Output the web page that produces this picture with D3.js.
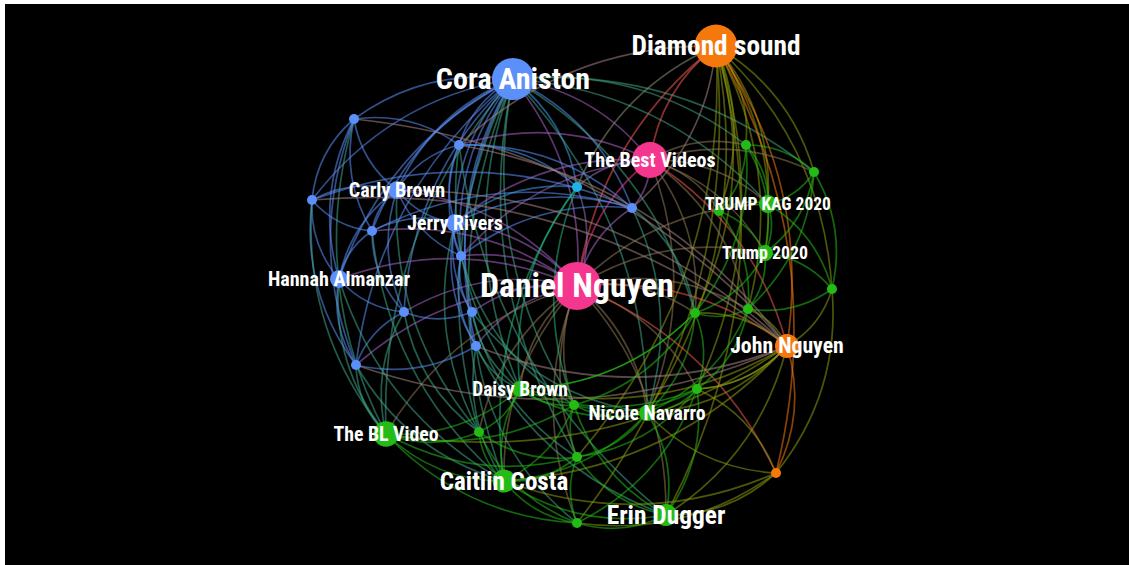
<!DOCTYPE html>
<html>
<head>
<meta charset="utf-8">
<script src="https://cdn.jsdelivr.net/npm/d3@7"></script>
<style>
  html, body { margin: 0; padding: 0; background: #fff; }
  svg { display: block; }
</style>
</head>
<body>
<svg id="chart" width="1129" height="565"></svg>
<script>
// ---------------- DATA ----------------
const nodeNames = [
  "Daniel Nguyen", "Cora Aniston", "Diamond sound", "The Best Videos", "Carly Brown",
  "Jerry Rivers", "Hannah Almanzar", "TRUMP KAG 2020", "Trump 2020", "John Nguyen",
  "Daisy Brown", "Nicole Navarro", "The BL Video", "Caitlin Costa", "Erin Dugger",
  "", "", "", "", "", "", "", "", "", "", "",
  "", "", "", "", "", "", "", "", "", "", "", ""
];
const nodeGroups = [
  "pink", "blue", "orange", "pink", "blue",
  "blue", "blue", "green", "green", "orange",
  "green", "green", "green", "green", "green",
  "blue", "blue", "blue", "blue", "blue", "blue", "blue", "blue", "blue", "blue", "cyan",
  "green", "green", "green", "green", "green", "green", "green", "green", "green", "green", "green", "orange"
];
// layout coordinates (force-layout units, Daniel Nguyen at the origin)
const layoutX = [
  0.0, -6.4, 13.9, 7.3, -18.0,
  -12.2, -23.8, 19.1, 18.8, 21.0,
  -5.7, 7.0, -19.1, -7.3, 8.9,
  -22.3, -11.8, -26.5, -20.5, -11.6, -17.3, -10.5, -10.1, -22.1, 5.5, 0.0,
  16.9, 23.7, 14.2, 25.5, 17.1, 11.8, 12.0, -0.3, -9.8, 0.0, 0.0, 19.9
];
const layoutY = [
  0.0, -20.7, -24.0, -12.6, -9.6,
  -6.3, -0.7, -8.2, -3.3, 6.0,
  10.3, 12.7, 14.8, 19.5, 22.9,
  -16.7, -14.1, -8.6, -5.5, -3.0, 2.6, 2.6, 6.0, 7.9, -7.8, -9.9,
  -14.1, -11.4, -7.5, 0.3, 2.3, 2.7, 10.3, 11.9, 14.6, 17.1, 23.7, 18.7
];
// node weight (drives circle area)
const nodeWeight = [
  100, 77, 80, 56, 14,
  14, 14, 14, 11, 25,
  11, 11, 28, 23, 21,
  4.3, 4.3, 4.3, 4.3, 4.3, 4.3, 4.3, 4.3, 4.3, 4.3, 4.3,
  4.3, 4.3, 4.3, 4.3, 4.3, 4.3, 4.3, 4.3, 4.3, 4.3, 4.3, 4.3
];
// label weight (drives label size)
const labelWeight = [
  102, 91, 83, 61, 61,
  60, 61, 53, 54, 66,
  59, 60, 60, 76, 77,
  0, 0, 0, 0, 0, 0, 0, 0, 0, 0, 0,
  0, 0, 0, 0, 0, 0, 0, 0, 0, 0, 0, 0
];
const edgeList = [
  // Cora Aniston
  [1,15],[1,16],[1,4],[1,5],[1,18],[1,19],[1,6],[1,21],[1,22],[1,20],[1,23],[1,24],[1,25],
  [1,0],[1,3],[1,17],[1,10],[1,13],[1,34],[1,12],[1,26],[1,27],[1,33],[1,35],[1,11],[1,31],[1,7],
  // Diamond sound
  [2,26],[2,27],[2,7],[2,28],[2,8],[2,29],[2,30],[2,31],[2,9],[2,37],[2,14],[2,11],[2,32],
  [2,3],[2,0],[2,16],[2,25],[2,24],[2,36],[2,35],
  // Daniel Nguyen
  [0,3],[0,4],[0,5],[0,6],[0,18],[0,19],[0,20],[0,21],[0,22],[0,23],[0,24],[0,25],[0,10],[0,11],
  [0,12],[0,13],[0,14],[0,31],[0,32],[0,33],[0,30],[0,37],[0,9],[0,8],[0,7],[0,35],[0,36],[0,34],
  // The Best Videos
  [3,24],[3,25],[3,7],[3,28],[3,26],[3,9],[3,30],[3,31],[3,16],[3,5],[3,19],[3,8],[3,27],[3,11],
  // blue cluster
  [15,16],[15,4],[15,17],[15,18],[15,23],[15,6],[16,4],[16,5],[16,25],[16,24],[16,19],[4,17],[4,18],
  [4,5],[4,19],[4,6],[4,20],[17,18],[17,6],[17,23],[18,5],[18,6],[18,20],[5,19],[5,21],[5,22],[5,25],
  [5,24],[19,21],[19,22],[6,20],[6,23],[20,21],[20,23],[21,22],[22,23],[19,24],[18,24],[17,24],
  // blue - green
  [23,12],[23,13],[17,12],[6,13],[15,12],[22,13],[22,14],[21,11],[20,12],[20,34],[22,10],[21,10],
  [19,33],[6,12],[4,34],[18,13],[22,36],[21,35],[25,10],[25,33],[25,13],[24,31],[24,11],[16,10],[16,14],[5,34],
  // blue - orange
  [15,9],[16,9],[17,9],[4,9],[23,9],[22,9],
  // right green cluster
  [26,27],[26,7],[26,28],[26,8],[27,7],[27,29],[27,8],[28,7],[28,8],[28,30],[7,8],[7,29],[8,29],
  [8,30],[8,31],[29,30],[29,9],[29,37],[30,9],[30,31],[31,9],[31,32],[32,9],[26,31],[27,30],
  // orange - green
  [37,9],[37,14],[37,11],[37,32],[37,36],[37,13],[9,14],[9,11],[9,32],[9,12],[9,13],[9,10],
  // bottom green cluster
  [12,13],[12,34],[12,36],[12,10],[12,35],[13,34],[13,35],[13,36],[13,14],[13,10],[13,33],[13,11],
  [14,36],[14,35],[14,11],[14,32],[14,33],[10,33],[10,34],[10,11],[10,31],[11,33],[11,32],[11,35],
  [11,31],[33,35],[33,32],[34,35],[35,36],[32,35],[31,33],[31,10],[30,11],[30,32],[32,36],[34,36],[12,33],[10,32]
];

// ---------------- STYLE / SCALES ----------------
const groupColor = {
  blue: "#5b8ff9", pink: "#f5368f", orange: "#f5780c", green: "#25bb16", cyan: "#1fb4e8"
};
const W = 1129, H = 565;
const x = d3.scaleLinear().domain([-30, 30]).range([277, 877]);
const y = d3.scaleLinear().domain([-30, 30]).range([-14, 586]);
const r = d3.scaleSqrt().domain([0, 100]).range([0, 24]);
const fs = d3.scaleLinear().domain([0, 100]).range([0, 33]);

const nodes = nodeNames.map((n, i) => ({
  name: n, group: nodeGroups[i], px: x(layoutX[i]), py: y(layoutY[i]),
  r: r(nodeWeight[i]), fs: fs(labelWeight[i])
}));
const links = edgeList.map(([s, t], i) => ({ s: nodes[s], t: nodes[t], i }));

const svg = d3.select("#chart");
svg.append("rect").attr("x", 5).attr("y", 4).attr("width", W - 5).attr("height", H - 4).attr("fill", "#000");

const cx0 = x(0), cy0 = y(0.4);

function ctrl(d) {
  const sx = d.s.px, sy = d.s.py, tx = d.t.px, ty = d.t.py;
  const dx = tx - sx, dy = ty - sy, len = Math.hypot(dx, dy);
  let nx = -dy / len, ny = dx / len;
  const mx = (sx + tx) / 2, my = (sy + ty) / 2;
  if (nx * (mx - cx0) + ny * (my - cy0) < 0) { nx = -nx; ny = -ny; }
  const k = 0.2 * len;
  return [mx + nx * k, my + ny * k];
}

svg.append("g").attr("fill", "none")
  .selectAll("path").data(links).join("path")
  .attr("d", d => {
    const [qx, qy] = ctrl(d);
    return `M${d.s.px},${d.s.py}Q${qx},${qy} ${d.t.px},${d.t.py}`;
  })
  .attr("stroke", d => d3.interpolateRgb(groupColor[d.s.group], groupColor[d.t.group])(0.5))
  .attr("stroke-width", 1.7)
  .attr("stroke-opacity", 0.55);

svg.append("g").selectAll("circle").data(nodes).join("circle")
  .attr("cx", d => d.px).attr("cy", d => d.py).attr("r", d => d.r)
  .attr("fill", d => groupColor[d.group]);

svg.append("g").selectAll("text").data(nodes.filter(d => d.name)).join("text")
  .attr("x", d => d.px).attr("y", d => d.py + d.fs * 0.34)
  .attr("text-anchor", "middle")
  .attr("font-family", "'Roboto Condensed', Roboto, 'Noto Sans', sans-serif")
  .attr("font-weight", 700)
  .attr("font-size", d => d.fs)
  .attr("fill", "#fff")
  .text(d => d.name);
</script>
</body>
</html>
